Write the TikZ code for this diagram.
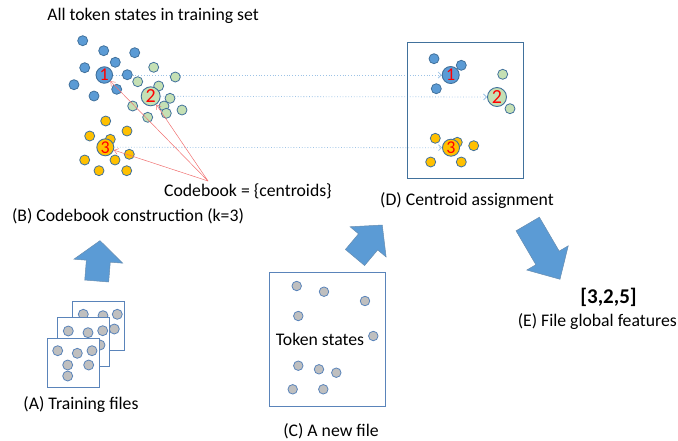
\documentclass[tikz,border=0pt]{standalone}
\usepackage{fontspec}
\setmainfont{Carlito}
\usetikzlibrary{arrows.meta,backgrounds}

\definecolor{obl}{HTML}{5B9BD5}
\definecolor{odk}{HTML}{41719C}
\definecolor{ogr}{HTML}{C5E0B4}
\definecolor{oye}{HTML}{FFC000}
\definecolor{ogy}{HTML}{BFBFBF}
\definecolor{fileb}{HTML}{5A84BA}
\definecolor{dotb}{HTML}{9DC3E6}
\definecolor{lred}{HTML}{F07070}

\newcommand\blockarrow[6]{% base, angle, length, shaft width, head width, head length
  \begin{scope}[shift={#1},rotate=#2]
    \draw[blockarr] (0,-#4/2) -- (#3-#6,-#4/2) -- (#3-#6,-#5/2) -- (#3,0)
      -- (#3-#6,#5/2) -- (#3-#6,#4/2) -- (0,#4/2) -- cycle;
  \end{scope}}

\begin{document}
\begin{tikzpicture}[x=1pt,y=-1pt,
  dotc/.style={circle,draw=odk,line width=0.8pt,inner sep=0pt,minimum size=10pt},
  bdot/.style={dotc,fill=obl},
  gdot/.style={dotc,fill=ogr},
  ydot/.style={dotc,fill=oye},
  sdot/.style={dotc,fill=ogy,draw=fileb},
  cent/.style={circle,draw=odk,line width=0.9pt,inner sep=0pt,text=red,font=\fontsize{18}{18}\selectfont},
  lbl/.style={font=\fontsize{17.7}{20}\selectfont,inner sep=0pt},
  filebox/.style={draw=fileb,fill=white,line width=0.9pt},
  framebox/.style={draw=odk,line width=0.9pt},
  blockarr/.style={fill=obl,draw=odk!80,line width=0.5pt},
  assign/.style={dotb,dotted,line width=0.8pt,-{Straight Barb[length=3pt,width=6pt]}},
  pick/.style={lred,line width=0.5pt,-{Straight Barb[length=4pt,width=6pt]}},
]
\useasboundingbox (0,0) rectangle (678,440);

% ---------- (B) codebook construction ----------
\node[lbl] (title) at (153,16) {All token states in training set};
\foreach \p [count=\i] in {(82.7,40.7),(103.7,50.7),(134.7,52.7),(115.3,62.3),(84.7,67.7),(127.3,74.7),(74,84.7),(94,96),(116.7,89.3)}
  \node[bdot] (bb\i) at \p {};
\foreach \p [count=\i] in {(153.7,67.3),(175.3,77),(137.7,81.7),(158.7,86),(170,98.3),(132.7,106),(164,106),(166.3,113.3),(182,110),(147.7,117.3)}
  \node[gdot] (bg\i) at \p {};
\foreach \p [count=\i] in {(105.7,121),(89.7,136),(127,131),(110.3,139.3),(129.3,154.3),(84.7,160),(115,160),(99,170.7),(126.7,170.7)}
  \node[ydot] (by\i) at \p {};
\node[cent,fill=obl,minimum size=16.5pt] (c1) at (104.3,75) {1};
\node[cent,fill=ogr,minimum size=19pt,font=\fontsize{20}{20}\selectfont] (c2) at (150.7,96.3) {2};
\node[cent,fill=oye,minimum size=17pt] (c3) at (105.3,147.3) {3};

\node[lbl] (codebook) at (248,191) {Codebook = \{centroids\}};
\coordinate (cb) at (208,181);
\draw[pick] (cb) -- (c1);
\draw[pick] (cb) -- (c2);
\draw[pick] (cb) -- (c3);
\node[lbl] (labB) at (128,216) {(B) Codebook construction (k=3)};

% ---------- (D) centroid assignment ----------
\node[framebox,minimum width=116pt,minimum height=136pt,inner sep=0pt] (boxD) at (465,110) {};
\foreach \p [count=\i] in {(434,58.7),(461.3,65.3),(436.3,88.7)}
  \node[bdot] (db\i) at \p {};
\foreach \p [count=\i] in {(502.7,74.3),(510,108.7)}
  \node[gdot] (dg\i) at \p {};
\foreach \p [count=\i] in {(435.3,138.3),(457.3,142.3),(473.7,145.7),(430.7,162),(461.3,162)}
  \node[ydot] (dy\i) at \p {};
\node[cent,fill=obl,minimum size=17pt] (d1) at (450.7,75) {1};
\node[cent,fill=ogr,minimum size=19pt,font=\fontsize{20}{20}\selectfont] (d2) at (497,97) {2};
\node[cent,fill=oye,minimum size=17pt] (d3) at (451,147.7) {3};
\node[lbl] (labD) at (467,201) {(D) Centroid assignment};

\begin{pgfonlayer}{background}
  \draw[assign] (c1) -- (d1);
  \draw[assign] (c2) -- (d2);
  \draw[assign] (c3) -- (d3);
\end{pgfonlayer}

% ---------- (A) training files ----------
\node[filebox,minimum width=52pt,minimum height=49pt,inner sep=0pt] (fA3) at (98.8,326.2) {};
\foreach \p [count=\i] in {(83.3,314.3),(103,315.7),(117.3,314.3),(114.3,329)}
  \node[sdot] (a3\i) at \p {};
\node[filebox,minimum width=52pt,minimum height=49pt,inner sep=0pt] (fA2) at (83.8,342.2) {};
\foreach \p [count=\i] in {(68.3,331),(88,332.7),(102.7,330.7),(100,345)}
  \node[sdot] (a2\i) at \p {};
\node[filebox,minimum width=52pt,minimum height=49pt,inner sep=0pt] (fA1) at (73.2,362.5) {};
\foreach \p [count=\i] in {(57.7,350.7),(77.3,353.3),(92,350.7),(67.7,365),(88.7,365),(67.7,376)}
  \node[sdot] (a1\i) at \p {};
\node[lbl] (labA) at (81,405) {(A) Training files};

% ---------- (C) a new file ----------
\node[filebox,fill=none,minimum width=116pt,minimum height=134.4pt,inner sep=0pt] (fC) at (327,339.5) {};
\foreach \p [count=\i] in {(296.7,286),(324,291.7),(365,301),(298.3,316),(373.3,336),(298.3,365.7),(319,369.3),(336.3,372.7),(292.7,389.3),(323.3,389.3)}
  \node[sdot,minimum size=9.5pt] (cs\i) at \p {};
\node[lbl] (tokens) at (320,339) {Token states};
\node[lbl] (labC) at (331,431) {(C) A new file};

% ---------- (E) features ----------
\node[font=\bfseries\fontsize{21}{22}\selectfont,inner sep=0pt] (vec) at (608.5,297) {[3,2,5]};
\node[lbl,anchor=east] (labE) at (677,322) {(E) File global features};

% ---------- block arrows ----------
\blockarrow{(96.7,281)}{85.3}{40.5}{24}{49}{20.6}
\blockarrow{(355,257.5)}{50}{42.4}{25}{47}{22}
\blockarrow{(527.7,224)}{-59.7}{64}{27}{48}{24.7}
\end{tikzpicture}
\end{document}
